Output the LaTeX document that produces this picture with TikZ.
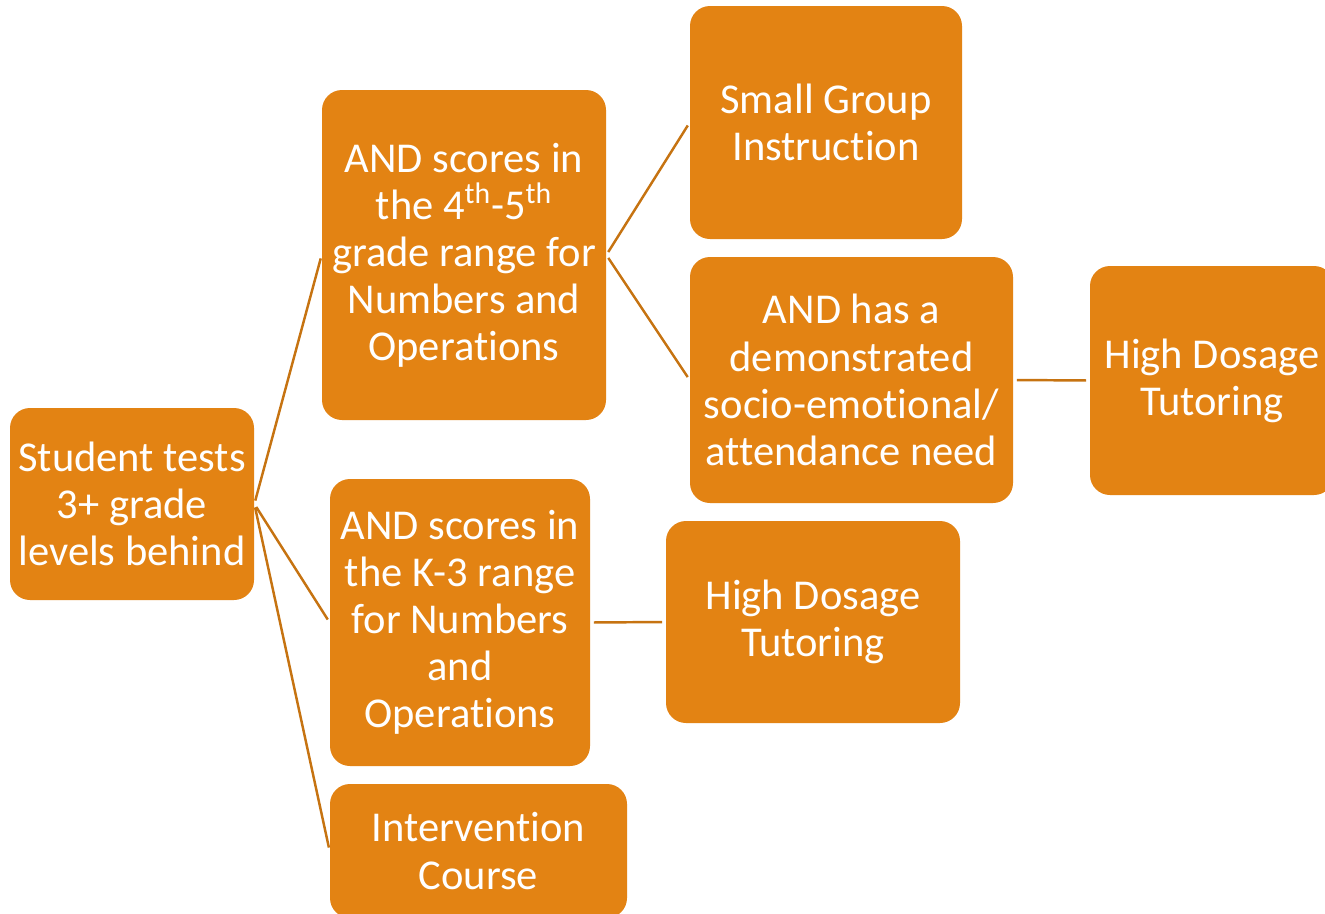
\documentclass[tikz,border=0pt]{standalone}
\usepackage{fontspec}
\setmainfont[Ligatures=NoCommon]{Carlito}
\definecolor{boxorange}{RGB}{227,131,19}
\definecolor{lineorange}{RGB}{198,115,17}
\tikzset{
	stepbox/.style={rectangle,rounded corners=0.4cm,fill=boxorange,text=white,align=center,
		inner sep=0pt,font=\fontsize{24.2}{26.8}\selectfont},
	link/.style={draw=lineorange,line width=1.4pt,shorten <=2pt,shorten >=2pt}
}
\begin{document}
\begin{tikzpicture}[x=0.02cm,y=-0.02cm]
			\useasboundingbox (0,0) rectangle (1325,913);
			\node[stepbox,minimum width=244*0.02cm,minimum height=192*0.02cm] (root) at (132,504) {Student tests\\3+ grade\\levels behind};
			\node[stepbox,minimum width=284*0.02cm,minimum height=330*0.02cm] (upper) at (464,255) {AND scores in\\the 4\textsuperscript{th}-5\textsuperscript{th}\\grade range for\\Numbers and\\Operations};
			\node[stepbox,minimum width=260*0.02cm,minimum height=287*0.02cm] (lower) at (460,622.5) {AND scores in\\the K-3 range\\for Numbers\\and\\Operations};
			\node[stepbox,minimum width=297*0.02cm,minimum height=134*0.02cm] (course) at (478.5,851) {Intervention\\Course};
			\node[stepbox,minimum width=272*0.02cm,minimum height=233*0.02cm] (group) at (826,122.5) {Small Group\\Instruction};
			\node[stepbox,minimum width=323*0.02cm,minimum height=246*0.02cm] (need) at (851.5,380) {AND has a\\demonstrated\\socio-emotional/\\attendance need};
			\node[stepbox,minimum width=244*0.02cm,minimum height=229*0.02cm] (tutorA) at (1212,380.5) {High Dosage\\Tutoring};
			\node[stepbox,minimum width=294*0.02cm,minimum height=202*0.02cm] (tutorB) at (813,622) {High Dosage\\Tutoring};
			\draw[link] (root.east) -- (upper.west);
			\draw[link] (root.east) -- (lower.west);
			\draw[link] (root.east) -- (course.west);
			\draw[link] (upper.east) -- (group.west);
			\draw[link] (upper.east) -- (need.west);
			\draw[link] (need.east) -- (tutorA.west);
			\draw[link] (lower.east) -- (tutorB.west);
		\end{tikzpicture}
\end{document}
